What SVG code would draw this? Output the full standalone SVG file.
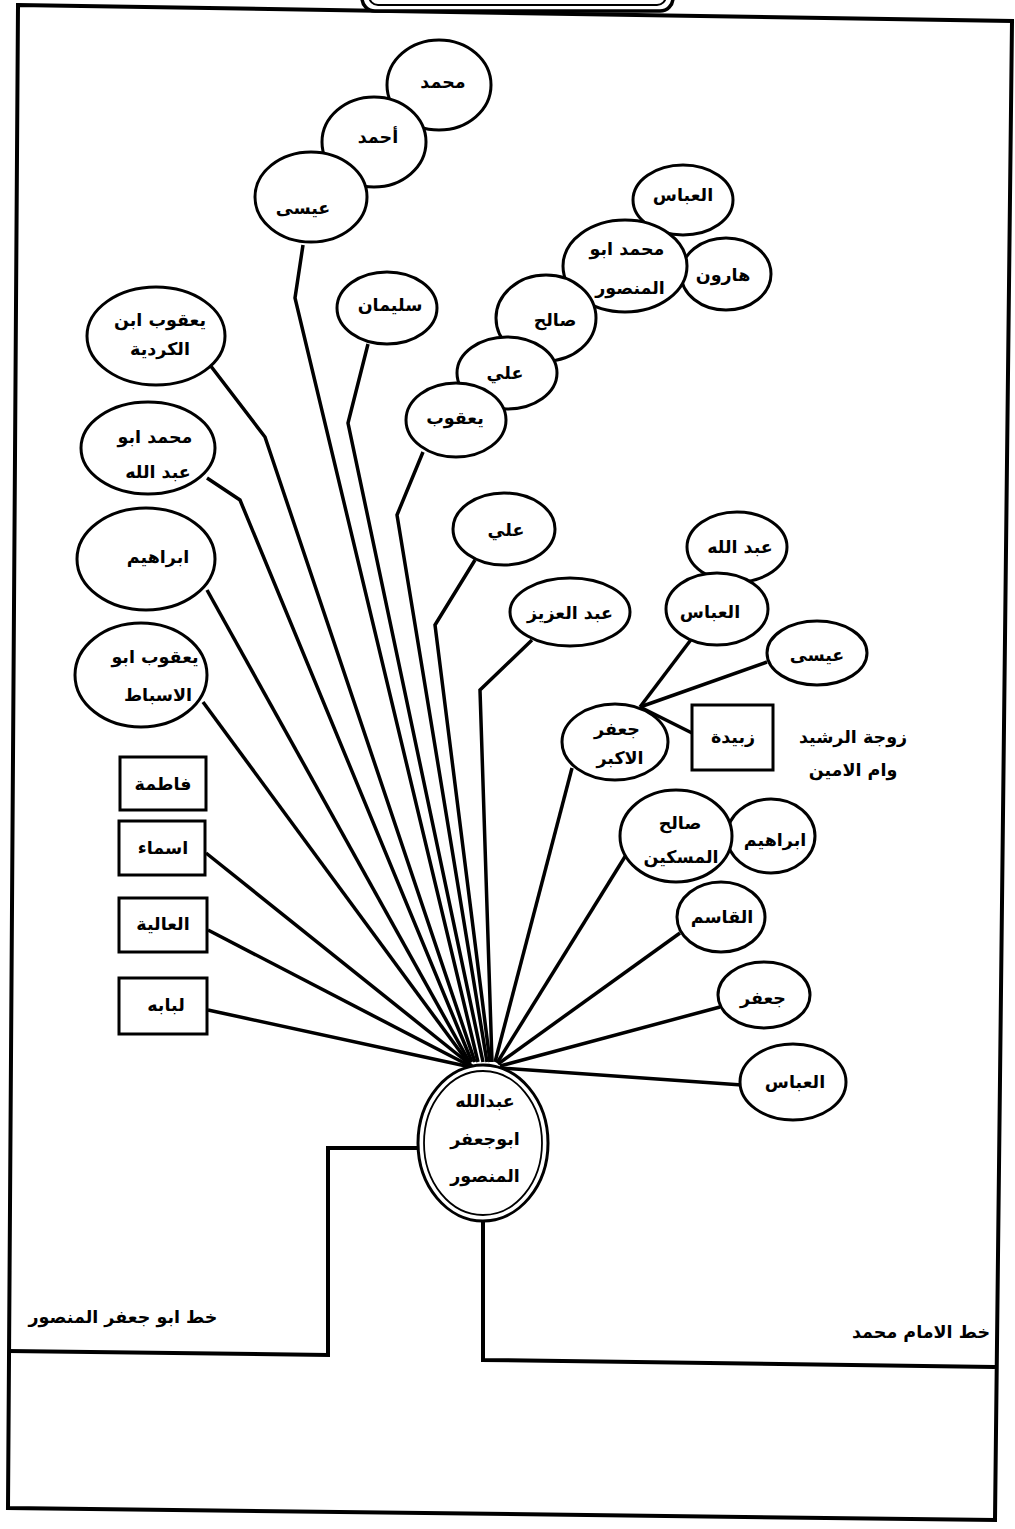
<svg xmlns="http://www.w3.org/2000/svg" width="1015" height="1529" viewBox="0 0 1015 1529">
<style>
.n{fill:#fff;stroke:#000;stroke-width:3}
.r{fill:#fff;stroke:#000;stroke-width:3}
.c{fill:none;stroke:#000;stroke-width:3.5;stroke-linejoin:miter}
.f{fill:none;stroke:#000;stroke-width:4}
.t{font-family:"DejaVu Sans","Noto Sans",sans-serif;font-weight:bold;font-size:17.5px;text-anchor:middle;dominant-baseline:central;fill:#000}
</style>
<rect width="1015" height="1529" fill="#fff"/>
<g id="frame">
<path class="f" d="M18,5 L1012,21 L995,1520 L8,1508 Z"/>
<path class="f" d="M8,1351 L328,1355 L328,1148 L418,1148" stroke-width="3"/>
<path class="f" d="M483,1218 L483,1360 L995,1367" stroke-width="3"/>
<rect x="362" y="-20" width="311" height="31" rx="13" fill="#fff" stroke="#000" stroke-width="3.5"/>
<rect x="369" y="-20" width="297" height="25" rx="9" fill="none" stroke="#000" stroke-width="2"/>
<text class="t" x="123" y="1317" font-size="16">خط ابو جعفر المنصور</text>
<text class="t" x="921" y="1332" font-size="16">خط الامام محمد</text>
</g>
<g id="connectors">
<path class="c" d="M303,245 L295,298 L478,1062"/>
<path class="c" d="M368,344 L348,423 L483,1062"/>
<path class="c" d="M423,452 L397,515 L487,1062"/>
<path class="c" d="M475,560 L435,625 L490,1062"/>
<path class="c" d="M532,640 L480,690 L492,1062"/>
<path class="c" d="M210,365 L265,437 L475,1062"/>
<path class="c" d="M207,478 L240,500 L472,1062"/>
<path class="c" d="M207,590 L470,1063"/>
<path class="c" d="M203,702 L470,1065"/>
<path class="c" d="M206,853 L472,1066"/>
<path class="c" d="M208,930 L472,1067"/>
<path class="c" d="M208,1010 L475,1068"/>
<path class="c" d="M572,768 L495,1062"/>
<path class="c" d="M626,855 L497,1063"/>
<path class="c" d="M680,933 L498,1064"/>
<path class="c" d="M720,1007 L500,1066"/>
<path class="c" d="M742,1085 L500,1068"/>
<path class="c" d="M640,707 L693,637"/>
<path class="c" d="M640,707 L767,662"/>
<path class="c" d="M640,707 L692,733"/>
</g>
<g id="n-mohammed"><ellipse class="n" cx="439" cy="85" rx="52" ry="45"/><text class="t" x="443" y="82">محمد</text></g>
<g id="n-ahmad"><ellipse class="n" cx="374" cy="142" rx="52" ry="45"/><text class="t" x="378" y="137">أحمد</text></g>
<g id="n-isa1"><ellipse class="n" cx="311" cy="197" rx="56" ry="45"/><text class="t" x="303" y="208">عيسى</text></g>
<g id="n-abbas1"><ellipse class="n" cx="683" cy="200" rx="50" ry="35"/><text class="t" x="683" y="195">العباس</text></g>
<g id="n-harun"><ellipse class="n" cx="726" cy="274" rx="45" ry="36"/><text class="t" x="723" y="275">هارون</text></g>
<g id="n-mabualmansur"><ellipse class="n" cx="625" cy="266" rx="62" ry="46"/><text class="t" x="627" y="249">محمد ابو</text><text class="t" x="630" y="288">المنصور</text></g>
<g id="n-salih1"><ellipse class="n" cx="546" cy="318" rx="50" ry="43"/><text class="t" x="555" y="320">صالح</text></g>
<g id="n-ali1"><ellipse class="n" cx="507" cy="373" rx="50" ry="36"/><text class="t" x="505" y="373">علي</text></g>
<g id="n-yaqub1"><ellipse class="n" cx="456" cy="420" rx="50" ry="37"/><text class="t" x="455" y="418">يعقوب</text></g>
<g id="n-sulayman"><ellipse class="n" cx="387" cy="308" rx="50" ry="36"/><text class="t" x="390" y="305">سليمان</text></g>
<g id="n-ali2"><ellipse class="n" cx="504" cy="529" rx="51" ry="36"/><text class="t" x="506" y="530">علي</text></g>
<g id="n-abdalaziz"><ellipse class="n" cx="570" cy="612" rx="60" ry="34"/><text class="t" x="570" y="613">عبد العزيز</text></g>
<g id="n-yaqubkurdiya"><ellipse class="n" cx="156" cy="336" rx="69" ry="49"/><text class="t" x="160" y="320">يعقوب ابن</text><text class="t" x="160" y="349">الكردية</text></g>
<g id="n-mabuabdallah"><ellipse class="n" cx="148" cy="448" rx="67" ry="46"/><text class="t" x="155" y="437">محمد ابو</text><text class="t" x="158" y="472">عبد الله</text></g>
<g id="n-ibrahim1"><ellipse class="n" cx="146" cy="559" rx="69" ry="51"/><text class="t" x="158" y="557">ابراهيم</text></g>
<g id="n-yaqubasbat"><ellipse class="n" cx="141" cy="675" rx="66" ry="52"/><text class="t" x="155" y="657">يعقوب ابو</text><text class="t" x="158" y="695">الاسباط</text></g>
<g id="n-fatima"><rect class="r" x="120" y="757" width="86" height="53"/><text class="t" x="163" y="784">فاطمة</text></g>
<g id="n-asma"><rect class="r" x="119" y="821" width="86" height="54"/><text class="t" x="163" y="848">اسماء</text></g>
<g id="n-aliya"><rect class="r" x="119" y="898" width="88" height="54"/><text class="t" x="163" y="924">العالية</text></g>
<g id="n-lubaba"><rect class="r" x="119" y="978" width="88" height="56"/><text class="t" x="166" y="1005">لبابه</text></g>
<g id="n-abdallah"><ellipse class="n" cx="737" cy="547" rx="50" ry="35"/><text class="t" x="740" y="547">عبد الله</text></g>
<g id="n-abbas2"><ellipse class="n" cx="717" cy="609" rx="51" ry="36"/><text class="t" x="710" y="612">العباس</text></g>
<g id="n-isa2"><ellipse class="n" cx="817" cy="653" rx="50" ry="32"/><text class="t" x="817" y="655">عيسى</text></g>
<g id="n-jafarakbar"><ellipse class="n" cx="615" cy="742" rx="53" ry="38"/><text class="t" x="617" y="729">جعفر</text><text class="t" x="620" y="758">الاكبر</text></g>
<g id="n-zubayda"><rect class="r" x="692" y="705" width="81" height="65"/><text class="t" x="733" y="737">زبيدة</text></g>
<g id="n-note"><text class="t" x="853" y="737">زوجة الرشيد</text><text class="t" x="853" y="770">وام الامين</text></g>
<g id="n-ibrahim2"><ellipse class="n" cx="771" cy="836" rx="44" ry="37"/><text class="t" x="775" y="840">ابراهيم</text></g>
<g id="n-salihmiskin"><ellipse class="n" cx="676" cy="836" rx="56" ry="46"/><text class="t" x="680" y="823">صالح</text><text class="t" x="681" y="857">المسكين</text></g>
<g id="n-qasim"><ellipse class="n" cx="721" cy="917" rx="44" ry="35"/><text class="t" x="722" y="917">القاسم</text></g>
<g id="n-jafar"><ellipse class="n" cx="764" cy="995" rx="46" ry="33"/><text class="t" x="763" y="998">جعفر</text></g>
<g id="n-abbas3"><ellipse class="n" cx="793" cy="1082" rx="53" ry="38"/><text class="t" x="795" y="1082">العباس</text></g>
<g id="n-mansur"><ellipse class="n" cx="483" cy="1143" rx="65" ry="78" stroke-width="3.5"/><ellipse cx="483" cy="1143" rx="59" ry="72" fill="none" stroke="#000" stroke-width="1.8"/><text class="t" x="485" y="1101">عبدالله</text><text class="t" x="485" y="1139">ابوجعفر</text><text class="t" x="485" y="1176">المنصور</text></g>
</svg>
